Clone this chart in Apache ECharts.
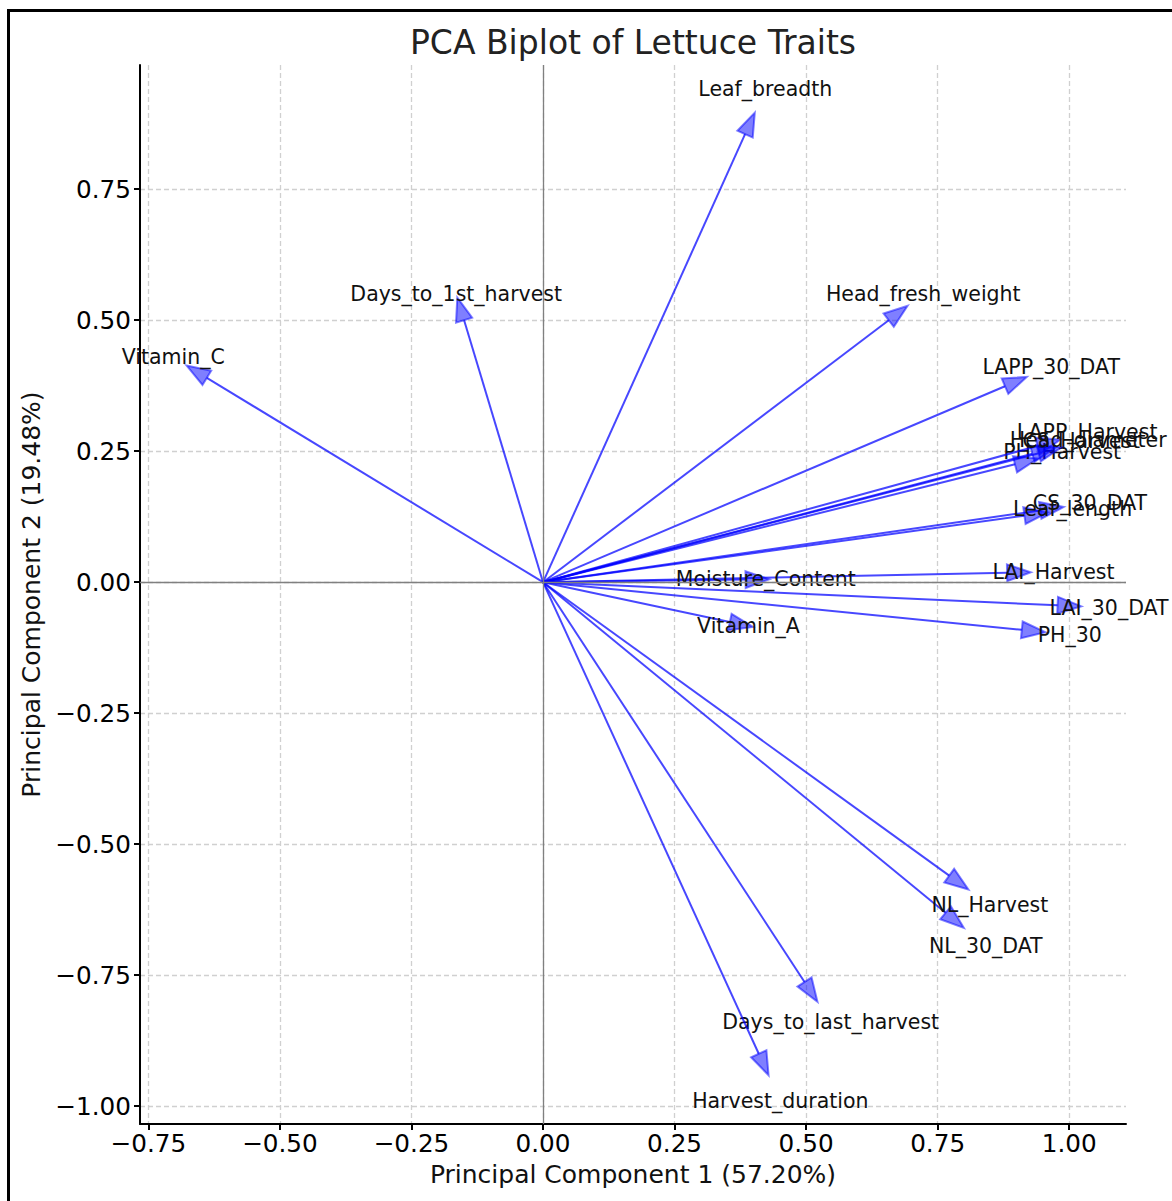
<!DOCTYPE html>
<html><head><meta charset="utf-8">
<script src="https://cdn.jsdelivr.net/npm/echarts@6/dist/echarts.min.js"></script>
<style>html,body{margin:0;padding:0;background:#fff;} #chart{width:1172px;height:1201px;}</style>
</head><body><div id="chart"></div>
<script>
// ---- data ----
const variables = ['Days_to_1st_harvest','Days_to_last_harvest','Harvest_duration','PH_30','PH_Harvest',
  'NL_30_DAT','NL_Harvest','LAI_30_DAT','LAI_Harvest','LAPP_30_DAT','LAPP_Harvest','CS_30_DAT','CS_Harvest',
  'Leaf_length','Leaf_breadth','Head_diameter','Head_fresh_weight','Moisture_Content','Vitamin_A','Vitamin_C'];
const pc1 = [-0.150, 0.497, 0.410, 0.910, 0.897, 0.765, 0.772, 0.978, 0.882, 0.878, 0.940, 0.945, 0.930,
  0.915, 0.384, 0.942, 0.657, 0.385, 0.355, -0.639];
const pc2 = [0.500, -0.763, -0.900, -0.091, 0.225, -0.631, -0.560, -0.044, 0.018, 0.374, 0.260, 0.137, 0.245,
  0.127, 0.855, 0.246, 0.500, 0.005, -0.076, 0.390];
const xTicks = [-0.75, -0.5, -0.25, 0, 0.25, 0.5, 0.75, 1.0];
const yTicks = [-1.0, -0.75, -0.5, -0.25, 0, 0.25, 0.5, 0.75];
const titleText = 'PCA Biplot of Lettuce Traits';
const xName = 'Principal Component 1 (57.20%)';
const yName = 'Principal Component 2 (19.48%)';

// ---- drawing ----
const LABEL_SCALE = 1.1, HEAD_LEN = 0.045, HEAD_HALF = 0.016;
const FONT = "'DejaVu Sans', Verdana, sans-serif";
const fmt = v => (v < 0 ? '\u2212' : '') + Math.abs(v).toFixed(2);

const chart = echarts.init(document.getElementById('chart'), null, {renderer: 'svg'});
const arrowData = variables.map((n, i) => [pc1[i], pc2[i]]);

function renderArrow(params, api) {
  const x = api.value(0), y = api.value(1);
  const name = variables[params.dataIndex];
  const len = Math.hypot(x, y), ux = x / len, uy = y / len;
  const o = api.coord([0, 0]);
  const b = api.coord([x, y]);
  const tip = api.coord([x + ux * HEAD_LEN, y + uy * HEAD_LEN]);
  const l = api.coord([x - uy * HEAD_HALF, y + ux * HEAD_HALF]);
  const r = api.coord([x + uy * HEAD_HALF, y - ux * HEAD_HALF]);
  const lab = api.coord([x * LABEL_SCALE, y * LABEL_SCALE]);
  return {type: 'group', children: [
    {type: 'line', shape: {x1: o[0], y1: o[1], x2: b[0], y2: b[1]},
     style: {stroke: 'rgba(0,0,255,0.72)', lineWidth: 2}},
    {type: 'polygon', shape: {points: [l, tip, r]},
     style: {fill: 'rgba(0,0,255,0.5)', stroke: 'rgba(0,0,255,0.5)', lineWidth: 2, lineJoin: 'miter'}},
    {type: 'text', x: lab[0], y: lab[1],
     style: {text: name, fill: '#111', fontSize: 20.5, fontFamily: FONT, align: 'center', verticalAlign: 'middle'}}
  ]};
}

const axisCommon = {
  type: 'value',
  axisLine: {show: true, onZero: false, lineStyle: {color: '#000', width: 2}},
  splitLine: {show: true, lineStyle: {color: '#d0d0d0', width: 1.3, type: [5, 3]}},
  nameLocation: 'middle',
  nameTextStyle: {fontSize: 25, color: '#111', fontFamily: FONT}
};

chart.setOption({
  animation: false,
  backgroundColor: '#fff',
  title: {text: titleText, left: 633, top: 26, textAlign: 'center', padding: 0,
    textStyle: {fontSize: 33, fontWeight: 'normal', color: '#222', fontFamily: FONT}},
  grid: {left: 140, top: 65, width: 986, height: 1059},
  xAxis: Object.assign({}, axisCommon, {
    min: -0.766, max: 1.108, position: 'bottom',
    axisTick: {show: true, customValues: xTicks, length: 6, lineStyle: {color: '#000', width: 2}},
    axisLabel: {customValues: xTicks, formatter: fmt, fontSize: 24.7, color: '#000', fontFamily: FONT, margin: 7},
    name: xName, nameGap: 38
  }),
  yAxis: Object.assign({}, axisCommon, {
    min: -1.034, max: 0.987, position: 'left',
    axisTick: {show: true, customValues: yTicks, length: 6, lineStyle: {color: '#000', width: 2}},
    axisLabel: {customValues: yTicks, formatter: fmt, fontSize: 24.7, color: '#000', fontFamily: FONT, margin: 9},
    name: yName, nameGap: 89
  }),
  graphic: [{type: 'rect', silent: true, z: 100,
    shape: {x: 8.5, y: 10.5, width: 1170, height: 1195},
    style: {fill: 'none', stroke: '#000', lineWidth: 3}}],
  series: [
    {type: 'line', data: [], z: 1, silent: true,
     markLine: {silent: true, symbol: ['none', 'none'], label: {show: false},
       lineStyle: {color: '#808080', width: 1.3, type: 'solid'},
       data: [{xAxis: 0}, {yAxis: 0}]}},
    {type: 'custom', coordinateSystem: 'cartesian2d', z: 3, clip: false, silent: true,
     renderItem: renderArrow, data: arrowData}
  ]
});
</script></body></html>
